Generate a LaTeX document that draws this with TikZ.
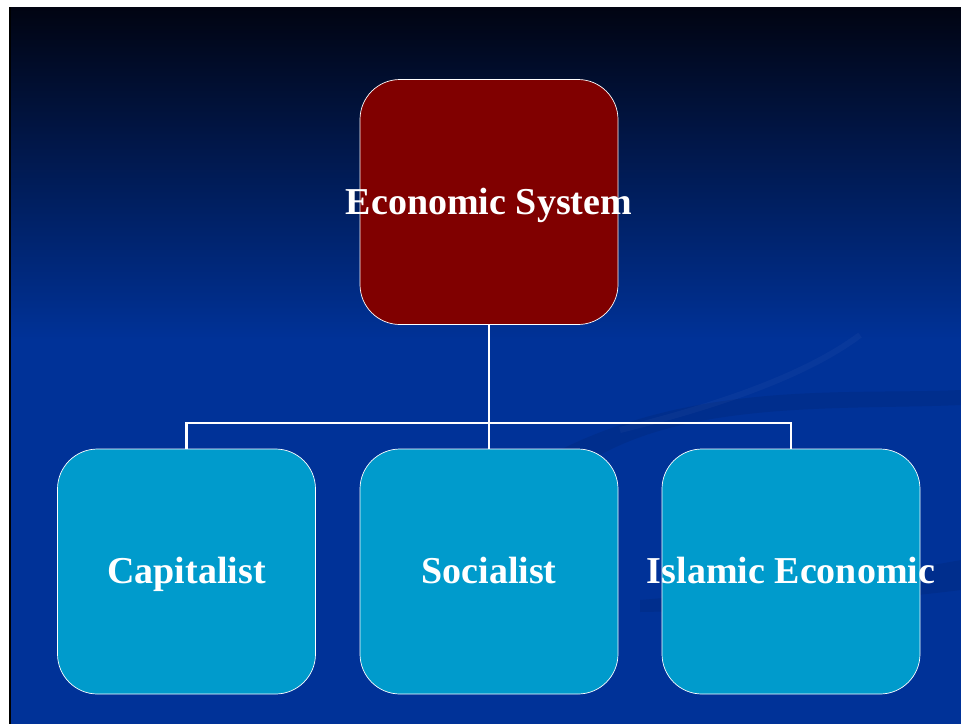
\documentclass[tikz,border=0pt]{standalone}
\usepackage{fontspec}
\setmainfont{Liberation Serif}
\definecolor{slideblue}{RGB}{0,50,152}
\definecolor{slidetop}{RGB}{1,4,18}
\definecolor{rootred}{RGB}{128,0,0}
\definecolor{leafcyan}{RGB}{0,155,204}
\begin{document}
\begin{tikzpicture}[x=1pt,y=-1pt,
	box/.style={draw=white,line width=0.7pt,rounded corners=40pt,
	  minimum width=258pt,minimum height=245pt,inner sep=0pt,
	  text height=30pt,text depth=6pt,
	  text=white,font=\fontsize{38}{42}\selectfont\bfseries},
	link/.style={draw=white,line width=2.6pt}]
	\useasboundingbox (0,0) rectangle (961,724);
	\fill[white] (0,0) rectangle (961,724);
	
	%background
	\shade[top color=slidetop,bottom color=slideblue] (10,7) rectangle (961,340);
	\fill[slideblue] (10,339) rectangle (961,724);
	\draw[black,line width=1.5pt] (10,7) -- (10,724); %left edge
	
	%swooshes
	\fill[black,opacity=0.07] (560,450) .. controls (700,380) and (850,395) .. (961,390)
	  -- (961,405) .. controls (850,410) and (700,400) .. (600,455) -- cycle;
	\fill[black,opacity=0.07] (640,600) .. controls (760,590) and (880,575) .. (961,560)
	  -- (961,590) .. controls (880,600) and (760,610) .. (640,612) -- cycle;
	\draw[white,opacity=0.03,line width=6pt] (860,335) .. controls (800,380) and (700,410) .. (620,430);
	
	%boxes
	\node[box,fill=rootred] (sys) at (489,202) {\makebox[0pt]{Economic System}};
	\node[box,fill=leafcyan] (cap) at (186.5,571.5) {\makebox[0pt]{Capitalist}};
	\node[box,fill=leafcyan] (soc) at (489,571.5) {\makebox[0pt]{Socialist}};
	\node[box,fill=leafcyan] (isl) at (791,571.5) {\makebox[0pt]{Islamic Economic}};
	
	%connectors
	\coordinate (bus) at (489,423);
	\draw[link] (sys.south) -- (soc.north);
	\draw[link] (bus) -| (cap.north);
	\draw[link] (bus) -| (isl.north);
\end{tikzpicture}
\end{document}
